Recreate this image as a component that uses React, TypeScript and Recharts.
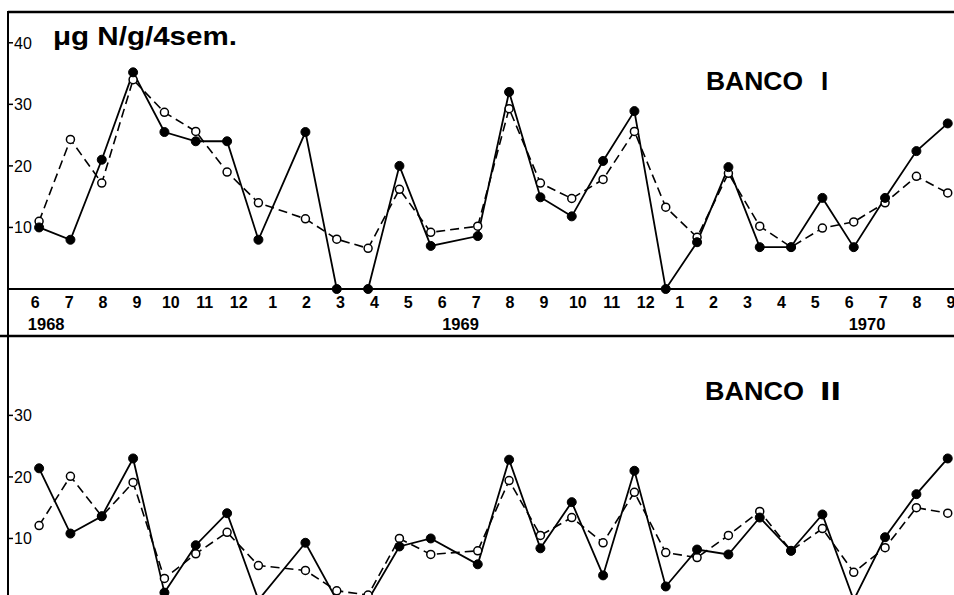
import React from 'react';
import { LineChart, Line, XAxis, YAxis } from 'recharts';

// sampling dates, in weeks after the first sample (4-week intervals)
const weeks = [0, 4, 8, 12, 16, 20, 24, 28, 34, 38, 42, 46, 50, 56, 60, 64, 68, 72, 76, 80, 84, 88, 92, 96, 100, 104, 108, 112, 116];

const banco1Solid = [10, 8, 21, 35.2, 25.5, 24, 24, 8, 25.5, 0, 0, 20, 7, 8.6, 32, 14.9, 11.8, 20.8, 28.9, 0, 7.6, 19.8, 6.8, 6.8, 14.8, 6.8, 14.8, 22.4, 26.9];
const banco1Dashed = [11, 24.3, 17.2, 34, 28.7, 25.6, 19, 14, 11.4, 8.1, 6.6, 16.2, 9.2, 10.2, 29.3, 17.2, 14.7, 17.8, 25.6, 13.3, 8.4, 18.8, 10.2, 6.8, 9.9, 10.9, 14, 18.3, 15.6];

const banco2Solid = [21.4, 10.8, 13.6, 23, 1.2, 8.9, 14.1, 0, 9.3, 0, 0, 8.7, 10, 5.8, 22.8, 8.4, 15.9, 4, 21, 2.2, 8.2, 7.4, 13.4, 8, 13.9, 0, 10.2, 17.2, 23];
const banco2Dashed = [12.1, 20.1, 13.6, 19.1, 3.5, 7.5, 11, 5.6, 4.8, 1.5, 0.8, 10, 7.4, 8, 19.4, 10.5, 13.4, 9.3, 17.5, 7.7, 6.9, 10.5, 14.4, 8, 11.6, 4.5, 8.5, 15, 14.1];

const monthLabels = ['6', '7', '8', '9', '10', '11', '12', '1', '2', '3', '4', '5', '6', '7', '8', '9', '10', '11', '12', '1', '2', '3', '4', '5', '6', '7', '8', '9'];
const yearLabels = ['1968', '1969', '1970'];
const yearWeeks = [0.9, 53.8, 105.7];

const yTicksTop = [10, 20, 30, 40];
const yTicksBottom = [10, 20, 30];

const FONT = '"Liberation Sans", Arial, Helvetica, sans-serif';
const X_DOMAIN: [number, number] = [-3.97, 116.8];
const WEEKS_PER_MONTH = 4.33;
const monthWeeks = monthLabels.map((_, i) => -0.5 + i * WEEKS_PER_MONTH);

const top = weeks.map((w, i) => ({ w, s: banco1Solid[i], d: banco1Dashed[i] }));
const bottom = weeks.map((w, i) => ({ w, s: banco2Solid[i], d: banco2Dashed[i] }));

const MonthTick = (props: any) => {
  const { x, y, index } = props;
  return (
    <text x={x} y={y} dy={19} textAnchor="middle" fontFamily={FONT} fontWeight="bold" fontSize={16} fill="#000">
      {monthLabels[index]}
    </text>
  );
};

const YearTick = (props: any) => {
  const { x, y, index } = props;
  return (
    <text x={x} y={y} dy={19} textAnchor="middle" fontFamily={FONT} fontWeight="bold" fontSize={16.5} fill="#000">
      {yearLabels[index]}
    </text>
  );
};

const ValueTick = (props: any) => {
  const { x, y, payload } = props;
  return (
    <text x={x} y={y} dy={6} textAnchor="start" fontFamily={FONT} fontSize={16} fill="#000">
      {payload.value}
    </text>
  );
};

const solidDot = { r: 4.5, fill: '#000', stroke: '#000', strokeWidth: 1, strokeDasharray: 'none' };
const openDot = { r: 4, fill: '#fff', stroke: '#000', strokeWidth: 1.5, strokeDasharray: 'none' };

export default function App() {
  return (
    <div style={{ position: 'absolute', left: 0, top: 0, width: 954, height: 595, overflow: 'hidden', background: '#fff' }}>
      <div style={{ position: 'absolute', left: 0, top: 0 }}>
        <LineChart width={954} height={336} data={top} margin={{ top: 12, right: 0, bottom: 0, left: 8 }}>
          <XAxis
            xAxisId="m"
            dataKey="w"
            type="number"
            domain={X_DOMAIN}
            ticks={monthWeeks}
            interval={0}
            allowDataOverflow
            height={22}
            tickSize={0}
            tickMargin={0}
            tickLine={false}
            axisLine={{ stroke: '#000', strokeWidth: 2 }}
            tick={<MonthTick />}
          />
          <XAxis
            xAxisId="y"
            dataKey="w"
            type="number"
            domain={X_DOMAIN}
            ticks={yearWeeks}
            interval={0}
            allowDataOverflow
            height={25}
            tickSize={0}
            tickMargin={0}
            tickLine={false}
            axisLine={false}
            tick={<YearTick />}
          />
          <YAxis
            type="number"
            domain={[0, 45]}
            ticks={yTicksTop}
            width={1}
            mirror
            tickSize={5}
            tickMargin={1}
            axisLine={{ stroke: '#000', strokeWidth: 2 }}
            tickLine={{ stroke: '#000', strokeWidth: 1.5 }}
            tick={<ValueTick />}
          />
          <Line xAxisId="m" type="linear" dataKey="d" stroke="#000" strokeWidth={1.6} strokeDasharray="9 5" dot={openDot} isAnimationActive={false} />
          <Line xAxisId="m" type="linear" dataKey="s" stroke="#000" strokeWidth={1.8} dot={solidDot} isAnimationActive={false} />
        </LineChart>
      </div>
      <div style={{ position: 'absolute', left: 0, top: 336 }}>
        <LineChart width={954} height={264} data={bottom} margin={{ top: 0, right: 0, bottom: 0, left: 8 }}>
          <XAxis dataKey="w" type="number" domain={X_DOMAIN} allowDataOverflow hide />
          <YAxis
            type="number"
            domain={[0, 42.9]}
            ticks={yTicksBottom}
            width={1}
            mirror
            tickSize={5}
            tickMargin={1}
            axisLine={{ stroke: '#000', strokeWidth: 2 }}
            tickLine={{ stroke: '#000', strokeWidth: 1.5 }}
            tick={<ValueTick />}
          />
          <Line type="linear" dataKey="d" stroke="#000" strokeWidth={1.6} strokeDasharray="9 5" dot={openDot} isAnimationActive={false} />
          <Line type="linear" dataKey="s" stroke="#000" strokeWidth={1.8} dot={solidDot} isAnimationActive={false} />
        </LineChart>
      </div>
      <svg width={954} height={595} style={{ position: 'absolute', left: 0, top: 0, pointerEvents: 'none' }}>
        <line x1={8} y1={12} x2={954} y2={12} stroke="#000" strokeWidth={2.5} />
        <line x1={8} y1={11} x2={8} y2={595} stroke="#000" strokeWidth={2} />
        <line x1={0} y1={336} x2={954} y2={336} stroke="#000" strokeWidth={2.5} />
        <text x={53} y={45} fontFamily={FONT} fontWeight="bold" fontSize={25} textLength={184} lengthAdjust="spacingAndGlyphs" fill="#000">μg N/g/4sem.</text>
        <text x={706} y={90} fontFamily={FONT} fontWeight="bold" fontSize={26} textLength={97} lengthAdjust="spacingAndGlyphs" fill="#000">BANCO</text>
        <text x={821} y={90} fontFamily={FONT} fontWeight="bold" fontSize={26} fill="#000">I</text>
        <text x={705} y={400} fontFamily={FONT} fontWeight="bold" fontSize={26} textLength={99} lengthAdjust="spacingAndGlyphs" fill="#000">BANCO</text>
        <text x={820} y={400} fontFamily={FONT} fontWeight="bold" fontSize={26} textLength={21} lengthAdjust="spacingAndGlyphs" fill="#000">II</text>
      </svg>
    </div>
  );
}
